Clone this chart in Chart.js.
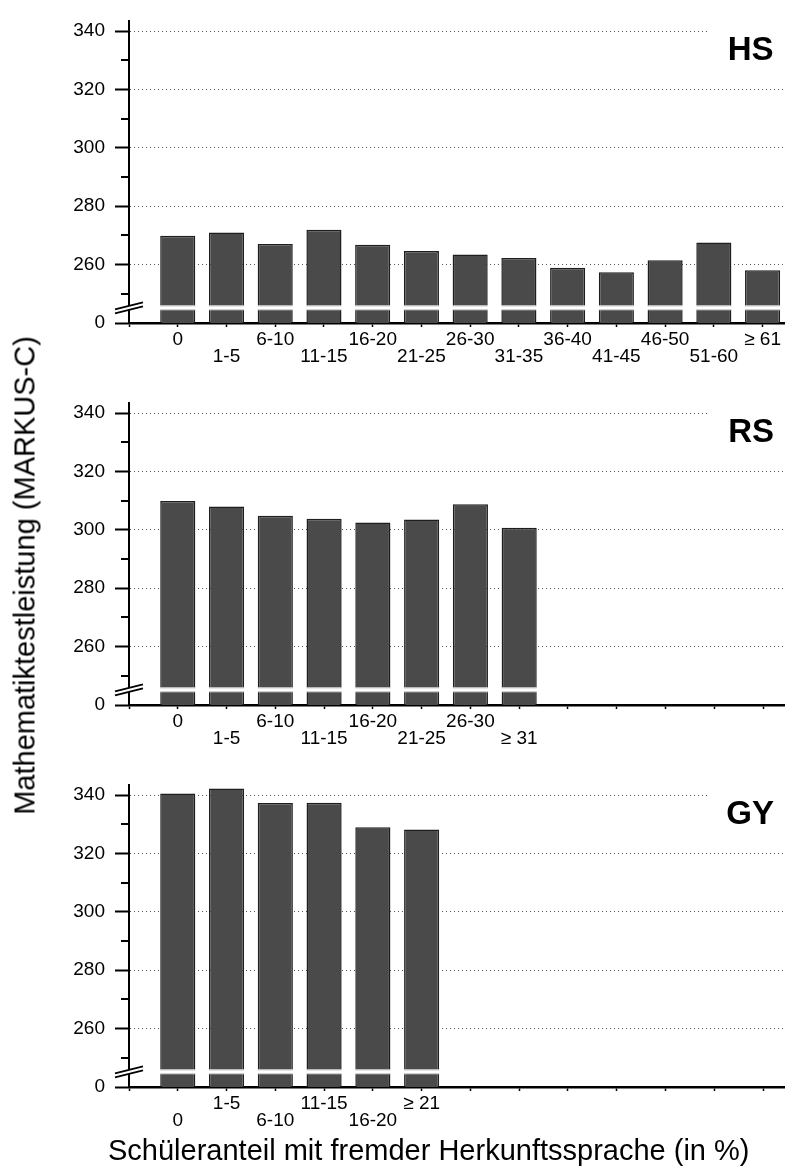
<!DOCTYPE html>
<html>
<head>
<meta charset="utf-8">
<script src="https://cdn.jsdelivr.net/npm/chart.js@4.4.1/dist/chart.umd.min.js"></script>
<style>
  html, body { margin: 0; padding: 0; background: #fff; overflow: hidden; }
  body { width: 785px; height: 1168px; position: relative; font-family: "Liberation Sans", Arial, sans-serif; }
  .panel { position: absolute; left: 0; width: 785px; height: 382px; }
  .ytitle {
    position: absolute; left: -215px; top: 561px; width: 480px; height: 29px;
    line-height: 29px; font-size: 29px; text-align: center; white-space: nowrap;
    transform: rotate(-90deg); transform-origin: center;
  }
  .xtitle {
    position: absolute; left: 108px; top: 1136px; height: 29px;
    line-height: 29px; font-size: 29px; white-space: nowrap;
  }
</style>
</head>
<body>
<div class="panel" style="top:0px"><canvas id="hs" width="785" height="382"></canvas></div>
<div class="panel" style="top:382px"><canvas id="rs" width="785" height="382"></canvas></div>
<div class="panel" style="top:764px"><canvas id="gy" width="785" height="382"></canvas></div>
<div class="ytitle">Mathematiktestleistung (MARKUS-C)</div>
<div class="xtitle">Schüleranteil mit fremder Herkunftssprache (in %)</div>

<script>
// Mean scores per share of pupils with a foreign first language
const hsLabels = ['0', '1-5', '6-10', '11-15', '16-20', '21-25', '26-30', '31-35', '36-40', '41-45', '46-50', '51-60', '\u2265 61']
const hsValues = [269.9, 271.0, 267.1, 271.9, 266.8, 264.7, 263.5, 262.3, 258.9, 257.4, 261.5, 267.6, 258.1]

const rsLabels = ['0', '1-5', '6-10', '11-15', '16-20', '21-25', '26-30', '\u2265 31']
const rsValues = [309.9, 308.0, 304.8, 303.8, 302.5, 303.5, 308.8, 300.7]

const gyLabels = ['0', '1-5', '6-10', '11-15', '16-20', '\u2265 21']
const gyValues = [340.5, 342.2, 337.3, 337.4, 329.0, 328.2]

// broken y axis: the bottom tick stands for 0
const yTickValues = [240, 250, 260, 270, 280, 290, 300, 310, 320, 330, 340]
const yTickText = ['0', '', '260', '', '280', '', '300', '', '320', '', '340']
const xTickValues = [0, 1, 2, 3, 4, 5, 6, 7, 8, 9, 10, 11, 12, 13]

const FONT = '"Liberation Sans", Arial, sans-serif'
const BREAK_LOW = 244.4
const BREAK_HIGH = 246.0
const BREAK_MID = 245.2

Chart.defaults.font.family = FONT
Chart.defaults.color = '#000'

const axisBreak = {
  id: 'axisBreak',
  afterDatasetsDraw(chart) {
    const { ctx, chartArea, scales: { y } } = chart
    const top = y.getPixelForValue(BREAK_HIGH)
    const bottom = y.getPixelForValue(BREAK_LOW)
    ctx.save()
    ctx.fillStyle = '#fff'
    ctx.fillRect(chartArea.left + 1.5, top, chartArea.right - chartArea.left, bottom - top)
    ctx.strokeStyle = '#c8c8c8'
    ctx.lineWidth = 1
    chart.getDatasetMeta(0).data.forEach(bar => {
      const l = bar.x - bar.width / 2
      const r = bar.x + bar.width / 2
      ctx.beginPath()
      ctx.moveTo(l, top + 0.5); ctx.lineTo(r, top + 0.5)
      ctx.moveTo(l, bottom - 0.5); ctx.lineTo(r, bottom - 0.5)
      ctx.stroke()
    })
    ctx.restore()
  },
  afterDraw(chart) {
    const { ctx, chartArea, scales: { y } } = chart
    const x0 = chartArea.left
    const yc = y.getPixelForValue(BREAK_MID)
    ctx.save()
    // minor ticks, shorter than the labelled ones
    ctx.strokeStyle = '#000'
    ctx.lineWidth = 2
    yTickValues.forEach((v, i) => {
      if (yTickText[i] !== '') return
      const py = Math.round(y.getPixelForValue(v))
      ctx.beginPath()
      ctx.moveTo(x0 - 8, py); ctx.lineTo(x0, py)
      ctx.stroke()
    })
    // double slash across the axis
    ctx.fillStyle = '#fff'
    ctx.beginPath()
    ctx.moveTo(x0 - 14, yc + 1.5); ctx.lineTo(x0 + 14, yc - 5.5)
    ctx.lineTo(x0 + 14, yc - 1.5); ctx.lineTo(x0 - 14, yc + 5.5)
    ctx.closePath()
    ctx.fill()
    ctx.lineWidth = 1.8
    ctx.beginPath()
    ctx.moveTo(x0 - 14, yc + 1.5); ctx.lineTo(x0 + 14, yc - 5.5)
    ctx.moveTo(x0 - 14, yc + 5.5); ctx.lineTo(x0 + 14, yc - 1.5)
    ctx.stroke()
    ctx.restore()
  }
}

const panelTag = {
  id: 'panelTag',
  afterDraw(chart, args, opts) {
    const { ctx, chartArea, scales: { y } } = chart
    const base = y.getPixelForValue(340)
    ctx.save()
    ctx.fillStyle = '#fff'
    ctx.fillRect(chartArea.right - 77, base - 4, 77, 8)
    ctx.fillStyle = '#000'
    ctx.font = 'bold 33px ' + FONT
    ctx.textAlign = 'right'
    ctx.textBaseline = 'alphabetic'
    ctx.fillText(opts.text, chartArea.right - 11, base + 29)
    ctx.restore()
  }
}

function makePanel(id, tag, labels, values, zeroOnTop) {
  const points = values.map((v, i) => ({ x: i + 1, y: v }))
  new Chart(document.getElementById(id), {
    type: 'bar',
    data: {
      datasets: [{
        data: points,
        backgroundColor: '#4a4a4a',
        borderColor: '#1e1e1e',
        borderWidth: 1.5,
        barPercentage: 0.72,
        categoryPercentage: 1
      }]
    },
    options: {
      responsive: false,
      animation: false,
      layout: { padding: { top: 9, right: 0, bottom: 0, left: 0 } },
      plugins: {
        legend: { display: false },
        tooltip: { enabled: false },
        panelTag: { text: tag }
      },
      scales: {
        x: {
          type: 'linear',
          offset: false,
          min: 0,
          max: hsLabels.length + 0.45,
          afterBuildTicks: scale => { scale.ticks = xTickValues.map(v => ({ value: v })) },
          afterFit: scale => { scale.height = 59 },
          grid: { offset: false, drawOnChartArea: false, tickLength: 4, tickColor: '#000', tickWidth: 1.5 },
          border: { color: '#000', width: 2.5 },
          ticks: {
            autoSkip: false,
            maxRotation: 0,
            minRotation: 0,
            padding: 4,
            color: '#000',
            font: { size: 19, lineHeight: '17px' },
            callback: value => {
              const i = value - 1
              if (i < 0 || i >= labels.length) return ''
              const upper = (i % 2 === 0) === zeroOnTop
              return upper ? [labels[i], ''] : ['', labels[i]]
            }
          }
        },
        y: {
          min: 240,
          max: 343.3,
          afterBuildTicks: scale => { scale.ticks = yTickValues.map(v => ({ value: v })) },
          afterFit: scale => { scale.width = 129 },
          grid: {
            color: c => (c.tick && c.tick.value >= 260 && c.tick.value % 20 === 0) ? '#555' : 'rgba(0,0,0,0)',
            lineWidth: 1,
            tickLength: 14,
            tickWidth: 2,
            tickColor: c => (c.tick && c.tick.value % 20 === 0) ? '#000' : 'rgba(0,0,0,0)'
          },
          border: { color: '#000', width: 2, dash: [1, 3] },
          ticks: {
            autoSkip: false,
            padding: 10,
            color: '#000',
            font: { size: 19 },
            callback: (value, index) => yTickText[index]
          }
        }
      }
    },
    plugins: [axisBreak, panelTag]
  })
}

makePanel('hs', 'HS', hsLabels, hsValues, true)
makePanel('rs', 'RS', rsLabels, rsValues, true)
makePanel('gy', 'GY', gyLabels, gyValues, false)
</script>
</body>
</html>
